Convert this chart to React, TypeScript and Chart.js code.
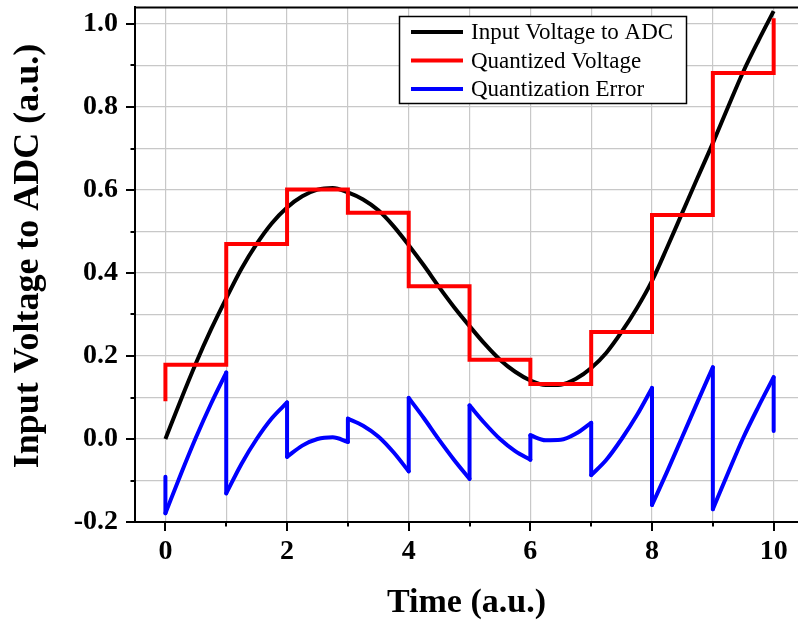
import React, { useEffect, useRef } from 'react';
import { Chart, registerables } from 'chart.js';

Chart.register(...registerables);

// ---------------- data ----------------
const seriesNames = ['Input Voltage to ADC', 'Quantized Voltage', 'Quantization Error'];
const seriesColors = ['#000000', '#ff0000', '#0000ff'];
const xTitle = 'Time (a.u.)';
const yTitle = 'Input Voltage to ADC (a.u.)';

const inputTime = [
  0, 0.25, 0.5, 0.75, 1, 1.25, 1.5, 1.75, 2, 2.25, 2.5, 2.75, 3, 3.25, 3.5, 3.75, 4, 4.25, 4.5, 4.75,
  5, 5.25, 5.5, 5.75, 6, 6.25, 6.5, 6.75, 7, 7.25, 7.5, 7.75, 8, 8.25, 8.5, 8.75, 9, 9.25, 9.5, 9.75, 10,
];
const inputVoltage = [
  0.0, 0.093, 0.182, 0.264, 0.339, 0.41, 0.47, 0.52, 0.558, 0.585, 0.601, 0.605, 0.594, 0.577, 0.551, 0.513,
  0.467, 0.418, 0.366, 0.317, 0.272, 0.229, 0.191, 0.162, 0.141, 0.13, 0.131, 0.145, 0.171, 0.208, 0.258,
  0.315, 0.381, 0.462, 0.546, 0.63, 0.713, 0.8, 0.885, 0.96, 1.031,
];

const sampleTimes = [0, 1, 2, 3, 4, 5, 6, 7, 8, 9, 10];
const initialLevel = 0.091;
const quantLevels = [0.179, 0.47, 0.601, 0.545, 0.368, 0.191, 0.1325, 0.258, 0.54, 0.882];
const finalLevel = 1.014;

const errorTime = [
  0, 0, 0.25, 0.5, 0.75, 1,
  1, 1.25, 1.5, 1.75, 2,
  2, 2.25, 2.5, 2.75, 3,
  3, 3.25, 3.5, 3.75, 4,
  4, 4.25, 4.5, 4.75, 5,
  5, 5.25, 5.5, 5.75, 6,
  6, 6.25, 6.5, 6.75, 7,
  7, 7.25, 7.5, 7.75, 8,
  8, 8.25, 8.5, 8.75, 9,
  9, 9.25, 9.5, 9.75, 10,
  10,
];
const errorValue = [
  -0.091, -0.179, -0.086, 0.003, 0.085, 0.16,
  -0.131, -0.06, 0.0, 0.05, 0.088,
  -0.043, -0.016, 0.0, 0.004, -0.007,
  0.049, 0.032, 0.006, -0.032, -0.078,
  0.099, 0.05, -0.002, -0.051, -0.096,
  0.081, 0.038, 0.0, -0.029, -0.05,
  0.009, -0.003, -0.002, 0.013, 0.039,
  -0.087, -0.05, 0.0, 0.057, 0.123,
  -0.159, -0.078, 0.006, 0.09, 0.173,
  -0.169, -0.082, 0.003, 0.078, 0.149,
  0.019,
];

const xGridTicks = [0, 1, 2, 3, 4, 5, 6, 7, 8, 9, 10];
const xLabelTicks = [0, 2, 4, 6, 8, 10];
const yGridTicks = [-0.2, -0.1, 0, 0.1, 0.2, 0.3, 0.4, 0.5, 0.6, 0.7, 0.8, 0.9, 1.0];
const yLabelTicks = [-0.2, 0, 0.2, 0.4, 0.6, 0.8, 1.0];

// ---------------- styling ----------------
const SERIF = '"Liberation Serif", "Times New Roman", Times, serif';
const isIn = (arr: number[], v: number) => arr.some((a) => Math.abs(a - v) < 1e-9);

const framePlugin = {
  id: 'frameTicks',
  afterDraw(chart: any) {
    const { ctx, chartArea } = chart;
    const xs = chart.scales.x;
    const ys = chart.scales.y;
    ctx.save();
    ctx.strokeStyle = '#000';
    ctx.lineWidth = 2;
    // top frame
    ctx.beginPath();
    ctx.moveTo(chartArea.left - 1, chartArea.top);
    ctx.lineTo(chartArea.right, chartArea.top);
    ctx.stroke();
    // y ticks
    yGridTicks.forEach((v) => {
      const py = Math.round(ys.getPixelForValue(v));
      const len = isIn(yLabelTicks, v) ? 9 : 4.5;
      ctx.beginPath();
      ctx.moveTo(chartArea.left - len, py);
      ctx.lineTo(chartArea.left, py);
      ctx.stroke();
    });
    // x ticks
    xGridTicks.forEach((v) => {
      const px = Math.round(xs.getPixelForValue(v));
      const len = isIn(xLabelTicks, v) ? 9 : 4.5;
      ctx.beginPath();
      ctx.moveTo(px, chartArea.bottom);
      ctx.lineTo(px, chartArea.bottom + len);
      ctx.stroke();
    });
    // y axis title
    ctx.fillStyle = '#000';
    ctx.font = `bold 36px ${SERIF}`;
    ctx.textAlign = 'center';
    ctx.textBaseline = 'middle';
    ctx.translate(29, 256);
    ctx.rotate(-Math.PI / 2);
    ctx.fillText(yTitle, 0, 0);
    ctx.restore();
  },
};

const boxLegendPlugin = {
  id: 'boxLegend',
  afterDatasetsDraw(chart: any) {
    const ctx = chart.ctx;
    const left = 399.5;
    const top = 16.5;
    const w = 287;
    const h = 87;
    ctx.save();
    ctx.fillStyle = '#ffffff';
    ctx.fillRect(left, top, w, h);
    ctx.strokeStyle = '#000';
    ctx.lineWidth = 1.5;
    ctx.strokeRect(left, top, w, h);
    ctx.font = `23px ${SERIF}`;
    ctx.textBaseline = 'middle';
    ctx.textAlign = 'left';
    seriesNames.forEach((name, i) => {
      const y = 32 + i * 28.5;
      ctx.strokeStyle = seriesColors[i];
      ctx.lineWidth = 4;
      ctx.beginPath();
      ctx.moveTo(411, y);
      ctx.lineTo(463, y);
      ctx.stroke();
      ctx.fillStyle = '#000';
      ctx.fillText(name, 471, y + 1);
    });
    ctx.restore();
  },
};

export default function App() {
  const ref = useRef<HTMLCanvasElement>(null);

  useEffect(() => {
    if (!ref.current) return;

    const inputPts = inputTime.map((t, i) => ({ x: t, y: inputVoltage[i] }));

    const quantPts: { x: number; y: number }[] = [{ x: sampleTimes[0], y: initialLevel }];
    quantLevels.forEach((lv, k) => {
      quantPts.push({ x: sampleTimes[k], y: lv });
      quantPts.push({ x: sampleTimes[k + 1], y: lv });
    });
    quantPts.push({ x: sampleTimes[sampleTimes.length - 1], y: finalLevel });

    const errorSets: { pts: { x: number; y: number }[]; smooth: boolean }[] = [];
    let run = [{ x: errorTime[0], y: errorValue[0] }];
    for (let i = 1; i < errorTime.length; i++) {
      const p = { x: errorTime[i], y: errorValue[i] };
      if (errorTime[i] === errorTime[i - 1]) {
        if (run.length > 1) errorSets.push({ pts: run, smooth: true });
        errorSets.push({ pts: [run[run.length - 1], p], smooth: false });
        run = [p];
      } else {
        run.push(p);
      }
    }
    if (run.length > 1) errorSets.push({ pts: run, smooth: true });

    const base = { pointRadius: 0, borderWidth: 4, fill: false };

    const datasets: any[] = [
      {
        ...base,
        label: seriesNames[0],
        data: inputPts,
        borderColor: seriesColors[0],
        cubicInterpolationMode: 'monotone',
        order: 2,
      },
      {
        ...base,
        label: seriesNames[1],
        data: quantPts,
        borderColor: seriesColors[1],
        tension: 0,
        order: 1,
      },
      ...errorSets.map((s) => ({
        ...base,
        label: seriesNames[2],
        data: s.pts,
        borderColor: seriesColors[2],
        borderCapStyle: 'round',
        cubicInterpolationMode: s.smooth ? 'monotone' : 'default',
        tension: 0,
        order: 0,
      })),
    ];

    const chart = new Chart(ref.current, {
      type: 'line',
      data: { datasets },
      plugins: [framePlugin, boxLegendPlugin],
      options: {
        animation: false,
        responsive: false,
        maintainAspectRatio: false,
        layout: { padding: { top: 7.4, right: 0, left: 0, bottom: 0 } },
        plugins: { legend: { display: false }, tooltip: { enabled: false } },
        scales: {
          x: {
            type: 'linear',
            min: -0.5,
            max: 10.4,
            afterBuildTicks: (scale: any) => {
              scale.ticks = xGridTicks.map((v) => ({ value: v }));
            },
            afterFit: (scale: any) => {
              scale.height = 99;
              scale.paddingLeft = 0;
              scale.paddingRight = 0;
            },
            grid: { color: '#c8c8c8', lineWidth: 1.2, drawTicks: false },
            border: { display: true, color: '#000', width: 2 },
            ticks: {
              autoSkip: false,
              maxRotation: 0,
              padding: 13,
              color: '#000',
              font: { family: SERIF, size: 28, weight: 'bold' },
              callback: (v: any) => (isIn(xLabelTicks, Number(v)) ? String(v) : ''),
            },
            title: {
              display: true,
              text: xTitle,
              color: '#000',
              font: { family: SERIF, size: 34, weight: 'bold' },
              padding: { top: 0, bottom: -3 },
            },
          },
          y: {
            type: 'linear',
            min: -0.2,
            max: 1.04,
            afterBuildTicks: (scale: any) => {
              scale.ticks = yGridTicks.map((v) => ({ value: v }));
            },
            afterFit: (scale: any) => {
              scale.width = 135;
              scale.paddingTop = 0;
              scale.paddingBottom = 0;
            },
            grid: { color: '#c8c8c8', lineWidth: 1.2, drawTicks: false },
            border: { display: true, color: '#000', width: 2 },
            ticks: {
              autoSkip: false,
              padding: 17,
              color: '#000',
              font: { family: SERIF, size: 28, weight: 'bold' },
              callback: (v: any) => (isIn(yLabelTicks, Number(v)) ? Number(v).toFixed(1) : ''),
            },
          },
        },
      },
    });

    return () => chart.destroy();
  }, []);

  return (
    <div style={{ position: 'fixed', left: 0, top: 0, width: 798, height: 621, background: '#fff' }}>
      <canvas ref={ref} width={798} height={621} style={{ width: 798, height: 621, display: 'block' }} />
    </div>
  );
}
